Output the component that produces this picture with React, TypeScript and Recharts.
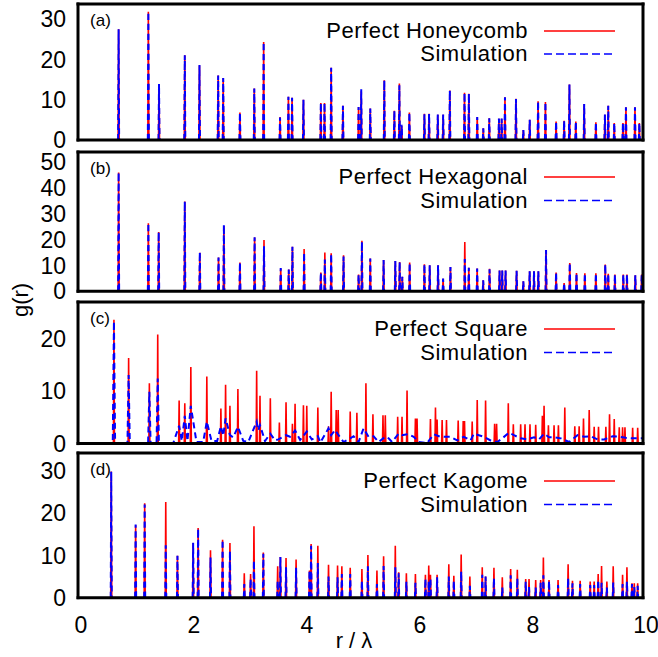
import { LineChart, Line, XAxis, YAxis } from "recharts";

// peak positions r/λ and heights g(r)
const honeycombR = [0.719, 1.245, 1.434, 1.89, 2.15, 2.481, 2.57, 2.866, 3.12, 3.286, 3.576, 3.724, 3.789, 3.99, 4.298, 4.363, 4.481, 4.689, 4.966, 5.013, 5.173, 5.421, 5.599, 5.688, 5.729, 5.865, 6.131, 6.214, 6.368, 6.463, 6.581, 6.841, 6.918, 7.066, 7.173, 7.279, 7.45, 7.498, 7.557, 7.752, 7.882, 7.995, 8.143, 8.273, 8.462, 8.604, 8.698, 8.811, 8.959, 9.166, 9.326, 9.385, 9.491, 9.645, 9.698, 9.858, 9.935];
const honeycombPerfect = [27.5, 31.8, 13.75, 21, 18.5, 16, 15.4, 6.8, 12.75, 24.3, 5.7, 10.7, 10.5, 10, 9.2, 9.2, 17.9, 8.5, 8.2, 12.1, 7.8, 14.8, 7.25, 14, 3.5, 6.8, 6.5, 6.5, 6.25, 6.25, 12.3, 11.7, 11.5, 5.7, 2.9, 5.4, 5.25, 5.25, 10.6, 10.25, 2.5, 5, 9.6, 9.4, 4.6, 4.75, 13.75, 4.6, 8.9, 4.4, 6.25, 8.5, 4.2, 4.2, 8.1, 8.1, 4.2];
const honeycombSim = [27.5, 31.8, 13.9, 21, 18.6, 16, 15.4, 6.8, 12.8, 24.3, 5.6, 10.7, 10.5, 10, 9.2, 9.2, 17.9, 8.5, 8.2, 12.6, 7.8, 14.8, 7.3, 13.6, 3.8, 6.8, 6.4, 6.5, 6.3, 6.3, 12.3, 11.7, 11.5, 5.7, 2.9, 5.4, 5.3, 5.3, 10.6, 10.2, 2.5, 5, 9.6, 9.4, 4.6, 4.8, 13.8, 4.6, 8.9, 4.4, 6.3, 8.5, 4.2, 4.2, 8.1, 8.1, 4.2];

const hexagonalR = [0.719, 1.245, 1.428, 1.89, 2.156, 2.487, 2.582, 2.866, 3.126, 3.292, 3.588, 3.73, 3.795, 4.002, 4.298, 4.369, 4.481, 4.7, 4.966, 5.025, 5.173, 5.409, 5.616, 5.693, 5.74, 5.87, 6.131, 6.225, 6.373, 6.462, 6.592, 6.846, 6.917, 7.065, 7.172, 7.284, 7.461, 7.509, 7.568, 7.763, 7.882, 7.994, 8.071, 8.148, 8.284, 8.462, 8.604, 8.704, 8.823, 8.971, 9.166, 9.332, 9.385, 9.503, 9.651, 9.716, 9.864, 9.977];
const hexagonalPerfect = [46.1, 26.4, 23, 34.8, 14.9, 13.1, 25.3, 11.2, 20.9, 19.9, 8.8, 8.4, 17.3, 16.4, 7.3, 15, 14.7, 14, 6.5, 19.6, 12.7, 12.1, 11.7, 11.4, 5.6, 11.2, 10.5, 10.1, 10.1, 4.9, 9.4, 19.1, 9.1, 8.8, 4.3, 8.7, 8.1, 8.1, 8.1, 8, 3.9, 7.8, 7.8, 7.8, 16, 7.3, 3.2, 11, 7.1, 7, 7, 10.4, 6.8, 6.5, 6.5, 6.5, 6.2, 6.5];
const hexagonalSim = [46.1, 26.4, 23, 34.8, 15.2, 13.1, 25.8, 11.2, 20.9, 17.5, 9, 8.4, 17.3, 15, 7.3, 12.3, 14.5, 13.5, 6.5, 19.2, 12.7, 12.1, 11.7, 11.4, 5.6, 11, 10.5, 10.1, 10.1, 4.9, 9.4, 12.5, 9.1, 8.8, 4.3, 8.5, 8.1, 8.1, 8.1, 8, 3.9, 7.8, 7.8, 7.8, 16, 7.3, 3.2, 11, 7.1, 7, 7, 10.4, 6.8, 6.5, 6.5, 6.5, 6.2, 6.5];

const squareR = [0.636, 0.896, 1.263, 1.411, 1.79, 1.89, 1.997, 2.28, 2.529, 2.612, 2.689, 2.83, 3.162, 3.221, 3.404, 3.564, 3.682, 3.795, 3.842, 3.99, 4.049, 4.245, 4.434, 4.481, 4.57, 4.605, 4.818, 4.936, 5.096, 5.22, 5.398, 5.439, 5.658, 5.735, 5.824, 5.972, 6.001, 6.238, 6.327, 6.356, 6.445, 6.522, 6.729, 6.818, 6.841, 6.977, 7.066, 7.214, 7.374, 7.409, 7.616, 7.705, 7.835, 7.912, 8.0, 8.101, 8.219, 8.249, 8.326, 8.426, 8.503, 8.616, 8.793, 8.87, 8.947, 9.048, 9.136, 9.213, 9.343, 9.408, 9.491, 9.58, 9.639, 9.681, 9.817, 9.906];
const squarePerfect = [23.6, 16.3, 11.5, 20.8, 8.2, 7.7, 14.6, 12.8, 6.7, 11.2, 7.2, 10.4, 13.9, 9.1, 8.65, 4, 7.9, 3.8, 7.6, 7.3, 7.2, 6.9, 3.3, 9.9, 6.4, 6.4, 6.1, 5.9, 11.5, 5.6, 5.4, 5.4, 5.1, 5.1, 10.1, 4.8, 4.8, 4.7, 6.9, 4.6, 4.5, 4.5, 4.4, 4.3, 4.3, 4.2, 8.3, 8.2, 3.8, 3.8, 7.7, 3.7, 3.7, 3.7, 3.7, 3.6, 5.3, 7.2, 3.5, 3.5, 3.5, 6.9, 3.3, 3.3, 4.8, 6.4, 3.2, 3.2, 3.2, 5.6, 4.7, 3.1, 3.1, 3.1, 3.0, 3.0];
// the simulated square g(r) is a broadened, continuous curve
const squareSimR = [0.5, 0.615, 0.636, 0.657, 0.875, 0.896, 0.917, 1.24, 1.263, 1.285, 1.39, 1.411, 1.432, 1.683, 1.789, 1.837, 1.89, 1.937, 1.996, 2.097, 2.215, 2.28, 2.363, 2.463, 2.529, 2.57, 2.612, 2.689, 2.747, 2.831, 2.925, 3.014, 3.162, 3.19, 3.221, 3.31, 3.404, 3.487, 3.546, 3.682, 3.753, 3.842, 3.931, 4.049, 4.138, 4.245, 4.29, 4.433, 4.481, 4.552, 4.611, 4.7, 4.818, 4.877, 4.966, 5.054, 5.143, 5.232, 5.32, 5.439, 5.498, 5.558, 5.676, 5.735, 5.835, 5.942, 6.03, 6.179, 6.297, 6.385, 6.474, 6.593, 6.711, 6.829, 6.948, 7.006, 7.095, 7.184, 7.302, 7.421, 7.51, 7.627, 7.716, 7.835, 7.954, 8.071, 8.16, 8.249, 8.337, 8.426, 8.545, 8.692, 8.841, 8.958, 9.077, 9.196, 9.313, 9.462, 9.58, 9.698, 9.817, 9.965, 10];
const squareSimG = [0, 0, 23.3, 0, 0, 13.1, 0, 0, 9.9, 0, 0, 12.4, 0, 0, 3.4, 0.5, 5.3, 0.5, 7.2, 0.3, 0.3, 4.2, 0.5, 0.5, 3.3, 1.5, 4.8, 1.6, 1.2, 3.2, 0.5, 0.3, 4.2, 2.5, 3.5, 0.5, 1.9, 0.6, 0.8, 1.6, 1.3, 2.5, 0.7, 2.3, 0.8, 1.4, 0.2, 2.9, 1.6, 2.6, 1.6, 0.3, 1.0, 1.4, 0.3, 2.9, 1.3, 1.4, 0.3, 1.3, 1.0, 0.3, 1.9, 1.6, 1.8, 1.3, 0.3, 0.1, 1.8, 1.4, 1.3, 1.3, 0.6, 1.3, 0.6, 1.9, 1.6, 1.3, 0.6, 0.3, 1.0, 2.1, 1.6, 1.0, 0.8, 1.2, 0.8, 1.9, 1.2, 1.2, 1.0, 0.3, 1.6, 1.3, 1.4, 0.8, 0.8, 1.4, 1.3, 1.1, 1.0, 1.0, 1.0];

const kagomeR = [0.588, 1.02, 1.18, 1.553, 1.76, 2.038, 2.126, 2.345, 2.559, 2.689, 2.943, 3.055, 3.114, 3.28, 3.534, 3.582, 3.682, 3.86, 4.097, 4.126, 4.245, 4.434, 4.594, 4.67, 4.818, 5.025, 5.131, 5.291, 5.409, 5.616, 5.676, 5.812, 5.972, 6.149, 6.208, 6.238, 6.356, 6.563, 6.652, 6.782, 6.936, 7.155, 7.214, 7.362, 7.51, 7.658, 7.776, 7.924, 7.983, 8.101, 8.189, 8.237, 8.337, 8.497, 8.675, 8.752, 8.888, 9.066, 9.136, 9.207, 9.267, 9.361, 9.473, 9.639, 9.716, 9.805, 9.846, 9.906];
const kagomePerfect = [29.8, 17.1, 22.3, 22.6, 9.9, 12.9, 16.5, 11.2, 13.7, 12.9, 5.8, 5.6, 16.9, 10.7, 7.4, 9.6, 9.4, 9.0, 6.4, 12.7, 12.3, 7.8, 7.6, 7.4, 7.1, 6.8, 10.1, 6.4, 9.8, 12.3, 6.0, 5.8, 5.6, 5.4, 7.6, 5.4, 5.4, 7.9, 5.2, 10.2, 5.0, 7.2, 5.0, 7.1, 4.8, 6.8, 6.6, 4.4, 4.4, 4.2, 4.2, 9.5, 4.2, 4.2, 7.9, 4.0, 4.0, 3.8, 3.8, 5.6, 7.5, 3.8, 7.4, 5.4, 7.2, 3.4, 3.4, 3.4];
const kagomeSim = [29.8, 17.3, 22, 12.4, 9.9, 13, 16.3, 9.5, 13.7, 11, 3.2, 4.5, 8.8, 10.4, 4, 9.6, 7.2, 7.1, 6.4, 12.3, 8.2, 5, 4.8, 5.6, 5.6, 4, 7.4, 3.2, 7.5, 7.2, 5.8, 3.8, 3.5, 4.5, 3.9, 4.5, 4.8, 5, 4, 6.2, 2.8, 5.4, 5, 4.6, 2.4, 5.3, 4.6, 3.8, 2.5, 2.4, 3.5, 5.3, 4, 3, 4.6, 3.4, 3.2, 3, 3, 4.2, 3.5, 2.4, 3.6, 3.2, 3.8, 3.2, 2.5, 2.8];

const xMajor = [0, 2, 4, 6, 8, 10];
const xMinor = [0, 0.5, 1, 1.5, 2, 2.5, 3, 3.5, 4, 4.5, 5, 5.5, 6, 6.5, 7, 7.5, 8, 8.5, 9, 9.5, 10];

const FONT = '"Liberation Sans", Arial, Helvetica, sans-serif';
const W = 0.009; // half width of a delta peak in r

type Pt = { r: number; g: number | null };

// each peak becomes a thin spike; nulls keep the baseline from being stroked
function spikes(rs: number[], gs: number[]): Pt[] {
  const out: Pt[] = [];
  rs.forEach((r, i) => {
    out.push({ r: r - W, g: 0 }, { r, g: gs[i] }, { r: r + W, g: 0 }, { r: r + W, g: null });
  });
  return out;
}

function curve(rs: number[], gs: number[]): Pt[] {
  return rs.map((r, i) => ({ r, g: gs[i] }));
}

const panels = [
  { id: "a", name: "Perfect Honeycomb", top: 5, h: 135, yMax: 33.75, yMajor: [0, 10, 20, 30], yMinor: [0, 5, 10, 15, 20, 25, 30], perfect: spikes(honeycombR, honeycombPerfect), sim: spikes(honeycombR, honeycombSim), leg: [31, 54] },
  { id: "b", name: "Perfect Hexagonal", top: 152.7, h: 138.3, yMax: 54, yMajor: [0, 10, 20, 30, 40, 50], yMinor: [0, 5, 10, 15, 20, 25, 30, 35, 40, 45, 50], perfect: spikes(hexagonalR, hexagonalPerfect), sim: spikes(hexagonalR, hexagonalSim), leg: [177, 200.5] },
  { id: "c", name: "Perfect Square", top: 302.7, h: 140.6, yMax: 27, yMajor: [0, 10, 20], yMinor: [0, 5, 10, 15, 20, 25], perfect: spikes(squareR, squarePerfect), sim: curve(squareSimR, squareSimG), leg: [329, 352.5] },
  { id: "d", name: "Perfect Kagome", top: 454, h: 143.7, yMax: 34.2, yMajor: [0, 10, 20, 30], yMinor: [0, 5, 10, 15, 20, 25, 30], perfect: spikes(kagomeR, kagomePerfect), sim: spikes(kagomeR, kagomeSim), leg: [481, 504.5] },
];

const frame = { stroke: "#000", strokeWidth: 3, strokeLinecap: "square" as const };
const tickLn = { stroke: "#000", strokeWidth: 2 };
const tickTxt = { fontSize: 23, fill: "#000", fontFamily: FONT };

function Panel({ p, last }: { p: (typeof panels)[number]; last: boolean }) {
  // axes get 1px boxes (a zero-sized axis is not drawn), margins take the rest;
  // mirrored axes carry the inward ticks, the plain ones carry the labels
  const mt = 4;
  const mb = last ? 40 : 14;
  const xProps = { dataKey: "r", type: "number" as const, domain: [0, 10], interval: 0, height: 1, allowDataOverflow: true };
  const yProps = { type: "number" as const, domain: [0, p.yMax], interval: 0, width: 1, allowDataOverflow: true };
  return (
    <div style={{ position: "absolute", left: 0, top: p.top - mt - 1 }}>
      <LineChart width={658} height={p.h + mt + mb + 2} margin={{ top: mt, right: 15, bottom: mb, left: 77 }}>
        <Line data={p.perfect} dataKey="g" type="linear" stroke="#ff0000" strokeWidth={1.6} dot={false} activeDot={false} connectNulls={false} isAnimationActive={false} />
        <Line data={p.sim} dataKey="g" type="linear" stroke="#0000ff" strokeWidth={2} strokeDasharray="6 4" dot={false} activeDot={false} connectNulls={false} isAnimationActive={false} />
        <XAxis {...xProps} ticks={xMajor} tickSize={0} tickMargin={19} tick={last ? { ...tickTxt, dx: 3 } : false} axisLine={frame} tickLine={false} />
        <XAxis {...xProps} xAxisId="bM" ticks={xMajor} mirror tickSize={12} tick={false} axisLine={false} tickLine={tickLn} />
        <XAxis {...xProps} xAxisId="bm" ticks={xMinor} mirror tickSize={6} tick={false} axisLine={false} tickLine={tickLn} />
        <XAxis {...xProps} xAxisId="tM" orientation="top" ticks={xMajor} mirror tickSize={12} tick={false} axisLine={frame} tickLine={tickLn} />
        <XAxis {...xProps} xAxisId="tm" orientation="top" ticks={xMinor} mirror tickSize={6} tick={false} axisLine={false} tickLine={tickLn} />
        <YAxis {...yProps} ticks={p.yMajor} tickSize={0} tickMargin={12} tick={tickTxt} axisLine={frame} tickLine={false} />
        <YAxis {...yProps} yAxisId="lM" ticks={p.yMajor} mirror tickSize={13} tick={false} axisLine={false} tickLine={tickLn} />
        <YAxis {...yProps} yAxisId="lm" ticks={p.yMinor} mirror tickSize={7} tick={false} axisLine={false} tickLine={tickLn} />
        <YAxis {...yProps} yAxisId="rM" orientation="right" ticks={p.yMajor} mirror tickSize={13} tick={false} axisLine={frame} tickLine={tickLn} />
        <YAxis {...yProps} yAxisId="rm" orientation="right" ticks={p.yMinor} mirror tickSize={7} tick={false} axisLine={false} tickLine={tickLn} />
      </LineChart>
    </div>
  );
}

function Txt({ x, y, size, children, right }: { x: number; y: number; size: number; children: React.ReactNode; right?: boolean }) {
  const style: React.CSSProperties = {
    position: "absolute",
    top: y,
    transform: "translateY(-50%)",
    fontSize: size,
    lineHeight: 1,
    whiteSpace: "nowrap",
    fontFamily: FONT,
    color: "#000",
  };
  if (right) {
    style.left = 0;
    style.width = x;
    style.textAlign = "right";
    style.letterSpacing = 0.5;
  } else {
    style.left = x;
  }
  return <div style={style}>{children}</div>;
}

export default function App() {
  return (
    <div style={{ position: "absolute", left: 0, top: 0, width: 658, height: 657, background: "#fff", overflow: "hidden" }}>
      {panels.map((p, i) => (
        <Panel key={p.id} p={p} last={i === panels.length - 1} />
      ))}
      {panels.map((p) => (
        <div key={"lab" + p.id}>
          <Txt x={90} y={p.top + 15} size={17}>({p.id})</Txt>
          <Txt x={528} y={p.leg[0]} size={22} right>{p.name}</Txt>
          <Txt x={528} y={p.leg[1]} size={22} right>Simulation</Txt>
        </div>
      ))}
      <svg width={658} height={657} style={{ position: "absolute", left: 0, top: 0, pointerEvents: "none" }}>
        {panels.map((p) => (
          <g key={"leg" + p.id}>
            <line x1={544} x2={615} y1={p.leg[0]} y2={p.leg[0]} stroke="#ff0000" strokeWidth={1.5} />
            <line x1={544} x2={615} y1={p.leg[1]} y2={p.leg[1]} stroke="#0000ff" strokeWidth={1.5} strokeDasharray="8 4" />
          </g>
        ))}
      </svg>
      <div style={{ position: "absolute", left: 21, top: 300, transform: "translate(-50%, -50%) rotate(-90deg)", fontSize: 22, lineHeight: 1, fontFamily: FONT, whiteSpace: "nowrap" }}>g(r)</div>
      <div style={{ position: "absolute", left: 354, top: 641, transform: "translate(-50%, -50%)", fontSize: 22, lineHeight: 1, fontFamily: FONT, whiteSpace: "nowrap" }}>r / λ</div>
    </div>
  );
}
